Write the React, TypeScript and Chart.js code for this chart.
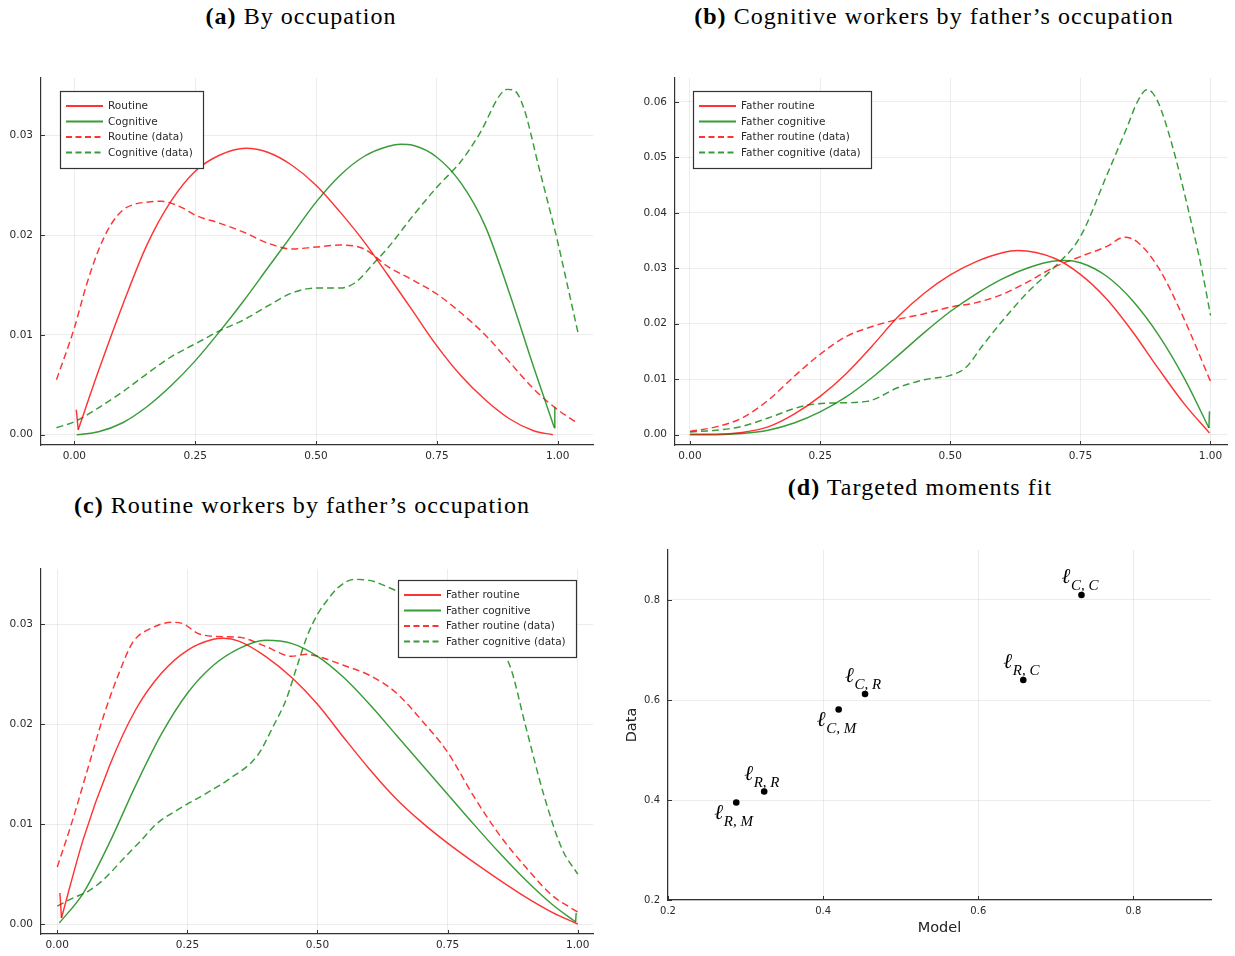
import React, { useEffect, useRef } from "react";
import { Chart, registerables } from "chart.js";

Chart.register(...registerables);

type Pt = [number, number];

// ---------- (a) By occupation ----------
const routineModelA: Pt[] = [
  [0.008, 0.0005], [0.05, 0.0064], [0.1, 0.013], [0.15, 0.019], [0.2, 0.0234],
  [0.25, 0.0264], [0.3, 0.028], [0.355, 0.0287], [0.4, 0.0283], [0.45, 0.027], [0.5, 0.025],
  [0.55, 0.0223], [0.6, 0.0193], [0.65, 0.0159], [0.7, 0.0124], [0.75, 0.0089], [0.8, 0.0059],
  [0.85, 0.0035], [0.9, 0.0016], [0.95, 0.0004], [0.99, 0.0],
];
const routineModelAEdge: Pt[] = [[0.004, 0.0025], [0.008, 0.0005]];
const cognitiveModelA: Pt[] = [
  [0.005, 0.0], [0.05, 0.0003], [0.1, 0.0012], [0.15, 0.0028], [0.2, 0.0049], [0.25, 0.0074],
  [0.3, 0.0103], [0.35, 0.0134], [0.4, 0.0167], [0.45, 0.02], [0.5, 0.0233], [0.55, 0.026],
  [0.6, 0.0279], [0.65, 0.0289], [0.675, 0.0291], [0.7, 0.029], [0.75, 0.0278], [0.8, 0.0252],
  [0.85, 0.0209], [0.9, 0.0142], [0.95, 0.0068], [0.993, 0.0007],
];
const cognitiveModelAEdge: Pt[] = [[0.993, 0.0007], [0.994, 0.0028]];
const routineDataA: Pt[] = [
  [-0.037, 0.0055], [0.0, 0.0107], [0.025, 0.015], [0.05, 0.0185], [0.075, 0.021], [0.1, 0.0225],
  [0.125, 0.0231], [0.15, 0.0233], [0.18, 0.0234], [0.2, 0.0232], [0.225, 0.0227], [0.25, 0.022],
  [0.3, 0.0212], [0.35, 0.0203], [0.4, 0.0192], [0.45, 0.0186], [0.5, 0.0188], [0.55, 0.019],
  [0.6, 0.0186], [0.65, 0.0168], [0.7, 0.0155], [0.75, 0.0141], [0.8, 0.0122], [0.85, 0.01],
  [0.9, 0.0073], [0.95, 0.0046], [1.0, 0.0025], [1.04, 0.0012],
];
const cognitiveDataA: Pt[] = [
  [-0.037, 0.0007], [0.0, 0.0013], [0.05, 0.0027], [0.1, 0.0043], [0.15, 0.0061], [0.2, 0.0078],
  [0.25, 0.0091], [0.3, 0.0104], [0.35, 0.0115], [0.4, 0.0129], [0.45, 0.0142], [0.5, 0.0147],
  [0.55, 0.0147], [0.58, 0.0152], [0.62, 0.0172], [0.65, 0.0188], [0.7, 0.0219], [0.75, 0.0248],
  [0.8, 0.0274], [0.84, 0.0303], [0.88, 0.034], [0.895, 0.0346], [0.91, 0.0345], [0.93, 0.0327],
  [0.96, 0.027], [1.0, 0.0193], [1.02, 0.015], [1.043, 0.01],
];

// ---------- (b) Cognitive workers by father's occupation ----------
const routineModelB: Pt[] = [
  [0.0, 0.0001], [0.05, 0.0001], [0.1, 0.0004], [0.15, 0.0014], [0.2, 0.0037], [0.25, 0.0069],
  [0.3, 0.011], [0.35, 0.016], [0.4, 0.0213], [0.45, 0.0255], [0.5, 0.0288], [0.55, 0.0312],
  [0.6, 0.0328], [0.63, 0.0332], [0.7, 0.0318], [0.75, 0.0289], [0.8, 0.0245],
  [0.85, 0.0186], [0.9, 0.0119], [0.95, 0.0055], [0.998, 0.0003],
];
const cognitiveModelB: Pt[] = [
  [0.0, 0.0], [0.05, 0.0], [0.1, 0.0002], [0.15, 0.0008], [0.2, 0.0021], [0.25, 0.0041],
  [0.3, 0.0068], [0.35, 0.0103], [0.4, 0.0143], [0.45, 0.0184], [0.5, 0.0222], [0.55, 0.0254],
  [0.6, 0.0281], [0.65, 0.0301], [0.7, 0.0313], [0.72, 0.0314], [0.75, 0.031], [0.8, 0.0286],
  [0.85, 0.0242], [0.9, 0.018], [0.95, 0.0101], [0.997, 0.0012],
];
const cognitiveModelBEdge: Pt[] = [[0.997, 0.0012], [0.998, 0.0042]];
const routineDataB: Pt[] = [
  [0.0, 0.0006], [0.05, 0.0014], [0.1, 0.003], [0.15, 0.0062], [0.2, 0.0105], [0.25, 0.0145],
  [0.3, 0.0177], [0.35, 0.0195], [0.4, 0.0208], [0.45, 0.0218], [0.5, 0.023], [0.55, 0.0238],
  [0.6, 0.0253], [0.65, 0.0276], [0.7, 0.0302], [0.75, 0.0321], [0.8, 0.0339], [0.835, 0.0356],
  [0.86, 0.0347], [0.9, 0.0301], [0.95, 0.0207], [1.0, 0.0096],
];
const cognitiveDataB: Pt[] = [
  [0.0, 0.0005], [0.05, 0.0008], [0.1, 0.0015], [0.15, 0.003], [0.2, 0.0047], [0.23, 0.0054],
  [0.27, 0.0057], [0.34, 0.006], [0.4, 0.0085], [0.45, 0.0099], [0.5, 0.0107], [0.53, 0.0121],
  [0.56, 0.0158], [0.6, 0.0205], [0.65, 0.0258], [0.7, 0.0302], [0.75, 0.0357], [0.8, 0.0466],
  [0.84, 0.0555], [0.86, 0.0601], [0.878, 0.0622], [0.897, 0.0604], [0.926, 0.0523],
  [0.958, 0.0403], [0.984, 0.0295], [1.0, 0.0215],
];

// ---------- (c) Routine workers by father's occupation ----------
const routineModelC: Pt[] = [
  [0.008, 0.0006], [0.05, 0.0085], [0.1, 0.0158], [0.15, 0.0214], [0.2, 0.0251],
  [0.25, 0.0274], [0.3, 0.0285], [0.32, 0.0286], [0.35, 0.0283], [0.4, 0.0268], [0.45, 0.0247],
  [0.5, 0.022], [0.55, 0.0187], [0.6, 0.0155], [0.65, 0.0126], [0.7, 0.0102], [0.75, 0.0081],
  [0.8, 0.0062], [0.85, 0.0044], [0.9, 0.0027], [0.95, 0.0012], [1.0, 0.0],
];
const routineModelCEdge: Pt[] = [[0.005, 0.0031], [0.008, 0.0006]];
const cognitiveModelC: Pt[] = [
  [0.004, 0.0001], [0.05, 0.0031], [0.1, 0.0081], [0.15, 0.0138], [0.2, 0.019], [0.25, 0.0231],
  [0.3, 0.0259], [0.35, 0.0276], [0.4, 0.0284], [0.45, 0.0281], [0.5, 0.0268], [0.55, 0.0247],
  [0.6, 0.022], [0.65, 0.019], [0.7, 0.016], [0.75, 0.013], [0.8, 0.01], [0.85, 0.0071],
  [0.9, 0.0044], [0.95, 0.002], [0.996, 0.0002],
];
const cognitiveModelCEdge: Pt[] = [[0.996, 0.0002], [0.997, 0.0011]];
const routineDataC: Pt[] = [
  [0.0, 0.0057], [0.03, 0.0105], [0.06, 0.0158], [0.09, 0.021], [0.12, 0.0253], [0.145, 0.0282],
  [0.18, 0.0296], [0.22, 0.0302], [0.24, 0.0301], [0.27, 0.0291], [0.3, 0.0288], [0.35, 0.0287],
  [0.4, 0.0278], [0.45, 0.0268], [0.48, 0.027], [0.5, 0.0268], [0.55, 0.0259], [0.6, 0.0249],
  [0.65, 0.0232], [0.7, 0.0204], [0.75, 0.0172], [0.8, 0.0128], [0.85, 0.0089], [0.9, 0.0057],
  [0.95, 0.0029], [1.0, 0.0012],
];
const cognitiveDataC: Pt[] = [
  [0.0, 0.0018], [0.03, 0.0026], [0.06, 0.0033], [0.09, 0.0045], [0.13, 0.0067], [0.16, 0.0083],
  [0.19, 0.01], [0.24, 0.0117], [0.29, 0.0132], [0.33, 0.0145], [0.385, 0.0169], [0.415, 0.0198],
  [0.44, 0.0225], [0.46, 0.0257], [0.48, 0.0288], [0.5, 0.031], [0.52, 0.0325], [0.54, 0.0337],
  [0.57, 0.0345], [0.6, 0.0344], [0.65, 0.0334], [0.7, 0.0324], [0.75, 0.0312], [0.8, 0.0298],
  [0.84, 0.0282], [0.87, 0.0258], [0.9, 0.0198], [0.935, 0.0129], [0.97, 0.0075], [1.0, 0.005],
];

// ---------- (d) Targeted moments fit ----------
const momentNames = ["R, M", "R, R", "C, M", "C, R", "R, C", "C, C"];
const modelMoments = [0.288, 0.324, 0.42, 0.454, 0.658, 0.733];
const dataMoments = [0.395, 0.417, 0.581, 0.612, 0.64, 0.81];

// ---------- tick values and legend labels ----------
const densityXTicks = [0, 0.25, 0.5, 0.75, 1];
const yTicksA = [0, 0.01, 0.02, 0.03];
const yTicksB = [0, 0.01, 0.02, 0.03, 0.04, 0.05, 0.06];
const yTicksC = [0, 0.01, 0.02, 0.03];
const momentTicks = [0.2, 0.4, 0.6, 0.8];

const labelsA = ["Routine", "Cognitive", "Routine (data)", "Cognitive (data)"];
const labelsFather = ["Father routine", "Father cognitive", "Father routine (data)", "Father cognitive (data)"];

// ---------- styling ----------
const RED = "rgba(255,0,0,0.8)";
const GREEN = "rgba(0,128,0,0.78)";
const AXIS_COLOR = "#333";
const TEXT_COLOR = "#2b2b2b";
const GRID_COLOR = "rgba(0,0,0,0.075)";
const SANS = "DejaVu Sans";
const TICK_FONT = { family: SANS, size: 10.5 };
const LINE_W = 1.45;
const DASH = [7, 4];
// labels of the moments: placed below the dot for the "M" moments
const labelBelow = [true, false, true, false, false, false];

// short inward tick marks on both axes
const innerTicks = {
  id: "innerTicks",
  afterDatasetsDraw(chart: any) {
    const { ctx, chartArea: a, scales } = chart;
    ctx.save();
    ctx.strokeStyle = AXIS_COLOR;
    ctx.lineWidth = 1;
    ctx.beginPath();
    for (const t of scales.x.ticks) {
      const p = Math.round(scales.x.getPixelForValue(t.value)) + 0.5;
      ctx.moveTo(p, a.bottom);
      ctx.lineTo(p, a.bottom - 4);
    }
    for (const t of scales.y.ticks) {
      const p = Math.round(scales.y.getPixelForValue(t.value)) + 0.5;
      ctx.moveTo(a.left, p);
      ctx.lineTo(a.left + 4, p);
    }
    ctx.stroke();
    ctx.restore();
  },
};

// framed legend drawn inside the plot area (datasets without a label are skipped)
const boxLegend = {
  id: "boxLegend",
  afterDatasetsDraw(chart: any, _args: any, opts: any) {
    if (!opts || !opts.corner) return;
    const { ctx, chartArea: a } = chart;
    const items = chart.data.datasets.filter((d: any) => d.label);
    ctx.save();
    ctx.font = `10.5px "${SANS}"`;
    const textW = Math.max(...items.map((d: any) => ctx.measureText(d.label).width));
    const w = Math.round(48 + textW + 10);
    const h = 77;
    const x = Math.round(opts.corner === "tr" ? a.right - opts.dx - w : a.left + opts.dx);
    const y = Math.round(a.top + opts.dy);
    ctx.fillStyle = "#fff";
    ctx.fillRect(x, y, w, h);
    ctx.strokeStyle = "#333";
    ctx.lineWidth = 1.2;
    ctx.strokeRect(x + 0.5, y + 0.5, w, h);
    items.forEach((d: any, i: number) => {
      const cy = y + 15 + i * 15.5;
      ctx.strokeStyle = d.borderColor;
      ctx.lineWidth = 1.8;
      ctx.setLineDash(d.borderDash && d.borderDash.length ? [6, 3.5] : []);
      ctx.beginPath();
      ctx.moveTo(x + 6, cy);
      ctx.lineTo(x + 43, cy);
      ctx.stroke();
      ctx.setLineDash([]);
      ctx.fillStyle = TEXT_COLOR;
      ctx.textBaseline = "middle";
      ctx.fillText(d.label, x + 48, cy + 0.5);
    });
    ctx.restore();
  },
};

// ℓ with subscript next to every moment dot
const momentLabels = {
  id: "momentLabels",
  afterDatasetsDraw(chart: any) {
    const { ctx } = chart;
    const meta = chart.getDatasetMeta(0);
    ctx.save();
    ctx.fillStyle = "#000";
    ctx.textBaseline = "alphabetic";
    meta.data.forEach((el: any, i: number) => {
      const { x, y } = el.getProps(["x", "y"], true);
      const below = labelBelow[i];
      const base = below ? y + 16 : y - 12;
      const dx = below ? -22 : -20;
      ctx.font = `italic 21px "Liberation Serif"`;
      ctx.fillText("ℓ", x + dx, base);
      ctx.font = `italic 15px "Liberation Serif"`;
      ctx.fillText(momentNames[i], x + dx + 9.5, base + 7);
    });
    ctx.restore();
  },
};

// axis titles of the moments panel
const axisTitles = {
  id: "axisTitles",
  afterDraw(chart: any, _args: any, opts: any) {
    if (!opts || !opts.x) return;
    const { ctx, chartArea: a } = chart;
    ctx.save();
    ctx.fillStyle = "#222";
    ctx.font = `14.5px "${SANS}"`;
    ctx.textAlign = "center";
    ctx.textBaseline = "middle";
    ctx.fillText(opts.x, (a.left + a.right) / 2, a.bottom + 28);
    ctx.translate(a.left - 36, (a.top + a.bottom) / 2);
    ctx.rotate(-Math.PI / 2);
    ctx.fillText(opts.y, 0, 0);
    ctx.restore();
  },
};

function axis(min: number, max: number, ticks: number[], decimals: number, size: number, horizontal: boolean, font = TICK_FONT) {
  return {
    type: "linear",
    min,
    max,
    afterBuildTicks: (s: any) => {
      s.ticks = ticks.map((v) => ({ value: v }));
    },
    afterFit: (s: any) => {
      if (horizontal) s.height = size;
      else s.width = size;
    },
    ticks: {
      callback: (v: number) => Number(v).toFixed(decimals),
      font,
      color: TEXT_COLOR,
      padding: horizontal ? 5 : 8,
      autoSkip: false,
      maxRotation: 0,
    },
    grid: { color: GRID_COLOR, lineWidth: 1, drawTicks: false },
    border: { color: AXIS_COLOR, width: 1.2 },
  };
}

type Series = { label: string; pts: Pt[]; color: string; dashed: boolean; edge?: Pt[] };

function lineSet(label: string, pts: Pt[], color: string, dashed: boolean, smooth: boolean) {
  return {
    label,
    data: pts.map(([x, y]) => ({ x, y })),
    borderColor: color,
    backgroundColor: color,
    borderWidth: LINE_W,
    borderDash: dashed ? DASH : [],
    pointRadius: 0,
    pointHoverRadius: 0,
    fill: false,
    tension: 0,
    cubicInterpolationMode: smooth ? "monotone" : "default",
  };
}

function densityConfig(o: {
  series: Series[];
  x: [number, number];
  y: [number, number];
  yTicks: number[];
  yAxisWidth: number;
  xAxisHeight: number;
  padTop: number;
  padRight: number;
  legend: { corner: "tl" | "tr"; dx: number; dy: number };
}): any {
  const datasets: any[] = [];
  for (const s of o.series) {
    datasets.push(lineSet(s.label, s.pts, s.color, s.dashed, true));
    // vertical end segment of the model curves, drawn straight
    if (s.edge) datasets.push(lineSet("", s.edge, s.color, s.dashed, false));
  }
  return {
    type: "line",
    data: { datasets },
    options: {
      animation: false,
      responsive: false,
      devicePixelRatio: 1,
      events: [],
      layout: { padding: { top: o.padTop, right: o.padRight, left: 0, bottom: 0 } },
      plugins: { legend: { display: false }, tooltip: { enabled: false }, boxLegend: o.legend },
      scales: {
        x: axis(o.x[0], o.x[1], densityXTicks, 2, o.xAxisHeight, true),
        y: axis(o.y[0], o.y[1], o.yTicks, 2, o.yAxisWidth, false),
      },
    },
    plugins: [innerTicks, boxLegend],
  };
}

function fourSeries(
  labels: string[],
  rm: Pt[],
  cm: Pt[],
  rd: Pt[],
  cd: Pt[],
  rmEdge?: Pt[],
  cmEdge?: Pt[]
): Series[] {
  return [
    { label: labels[0], pts: rm, color: RED, dashed: false, edge: rmEdge },
    { label: labels[1], pts: cm, color: GREEN, dashed: false, edge: cmEdge },
    { label: labels[2], pts: rd, color: RED, dashed: true },
    { label: labels[3], pts: cd, color: GREEN, dashed: true },
  ];
}

const configA = () =>
  densityConfig({
    series: fourSeries(labelsA, routineModelA, cognitiveModelA, routineDataA, cognitiveDataA, routineModelAEdge, cognitiveModelAEdge),
    x: [-0.069, 1.073],
    y: [-0.00103, 0.03574],
    yTicks: yTicksA,
    yAxisWidth: 41,
    xAxisHeight: 27,
    padTop: 18,
    padRight: 17,
    legend: { corner: "tl", dx: 19, dy: 13 },
  });

const configB = () =>
  densityConfig({
    series: fourSeries(labelsFather, routineModelB, cognitiveModelB, routineDataB, cognitiveDataB, undefined, cognitiveModelBEdge),
    x: [-0.0288, 1.0317],
    y: [-0.00186, 0.0643],
    yTicks: yTicksB,
    yAxisWidth: 55,
    xAxisHeight: 27,
    padTop: 18,
    padRight: 8,
    legend: { corner: "tl", dx: 18, dy: 13 },
  });

const configC = () =>
  densityConfig({
    series: fourSeries(labelsFather, routineModelC, cognitiveModelC, routineDataC, cognitiveDataC, routineModelCEdge, cognitiveModelCEdge),
    x: [-0.0313, 1.0294],
    y: [-0.001, 0.03554],
    yTicks: yTicksC,
    yAxisWidth: 41,
    xAxisHeight: 22,
    padTop: 24,
    padRight: 17,
    legend: { corner: "tr", dx: 17, dy: 11 },
  });

const configD = (): any => ({
  type: "scatter",
  data: {
    datasets: [
      {
        label: "moments",
        data: modelMoments.map((m, i) => ({ x: m, y: dataMoments[i] })),
        pointRadius: 3.3,
        pointHoverRadius: 3.3,
        backgroundColor: "#000",
        borderColor: "#000",
        borderWidth: 0,
      },
    ],
  },
  options: {
    animation: false,
    responsive: false,
    devicePixelRatio: 1,
    events: [],
    layout: { padding: { top: 20, right: 24, left: 0, bottom: 0 } },
    plugins: {
      legend: { display: false },
      tooltip: { enabled: false },
      axisTitles: { x: "Model", y: "Data" },
    },
    scales: {
      x: axis(0.2, 0.9, momentTicks, 1, 56, true, { family: SANS, size: 10 }),
      y: axis(0.2, 0.9, momentTicks, 1, 48, false, { family: SANS, size: 10 }),
    },
  },
  plugins: [innerTicks, momentLabels, axisTitles],
});

function ChartBox(props: { left: number; top: number; width: number; height: number; make: () => any }) {
  const ref = useRef<HTMLCanvasElement>(null);
  useEffect(() => {
    const chart = new Chart(ref.current as HTMLCanvasElement, props.make());
    return () => chart.destroy();
  }, []);
  const { left, top, width, height } = props;
  return (
    <canvas
      ref={ref}
      width={width}
      height={height}
      style={{ position: "absolute", left, top, width, height, display: "block" }}
    />
  );
}

const TITLE_SIZE = 24;
const titles = [
  { tag: "(a)", text: "By occupation", cx: 301, base: 24 },
  { tag: "(b)", text: "Cognitive workers by father’s occupation", cx: 934, base: 24 },
  { tag: "(c)", text: "Routine workers by father’s occupation", cx: 302, base: 513 },
  { tag: "(d)", text: "Targeted moments fit", cx: 920, base: 495 },
];

export default function App() {
  return (
    <div
      style={{
        position: "fixed",
        left: 0,
        top: 0,
        width: 1235,
        height: 956,
        background: "#fff",
        overflow: "hidden",
      }}
    >
      {titles.map((t) => (
        <div
          key={t.tag}
          style={{
            position: "absolute",
            left: t.cx - 300,
            width: 600,
            top: t.base - TITLE_SIZE * 0.8375,
            textAlign: "center",
            fontFamily: "'Liberation Serif', serif",
            fontSize: TITLE_SIZE,
            lineHeight: 1,
            whiteSpace: "nowrap",
            color: "#000",
            letterSpacing: 1.05,
          }}
        >
          <b>{t.tag}</b> {t.text}
        </div>
      ))}
      <ChartBox left={0} top={60} width={610} height={412} make={configA} />
      <ChartBox left={620} top={60} width={615} height={412} make={configB} />
      <ChartBox left={0} top={545} width={610} height={411} make={configC} />
      <ChartBox left={620} top={530} width={615} height={426} make={configD} />
    </div>
  );
}
